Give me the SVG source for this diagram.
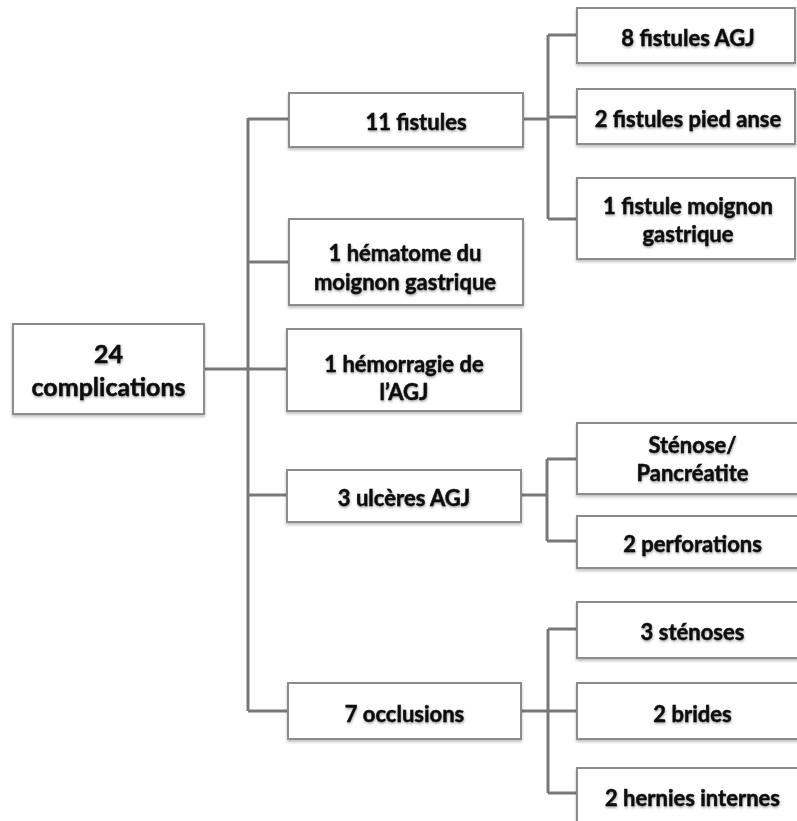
<svg xmlns="http://www.w3.org/2000/svg" width="797" height="821" viewBox="0 0 797 821">
  <defs>
    <filter id="bsh" x="-5%" y="-10%" width="110%" height="125%">
      <feDropShadow dx="0" dy="2" stdDeviation="1.5" flood-color="#000" flood-opacity="0.25"/>
    </filter>
    <filter id="tsh" x="-5%" y="-20%" width="110%" height="150%">
      <feDropShadow dx="0.5" dy="1.5" stdDeviation="1.2" flood-color="#000" flood-opacity="0.35"/>
    </filter>
  </defs>
  <style>
    .box { fill: #ffffff; stroke: #8c8c8c; stroke-width: 2; filter: url(#bsh); }
    .lbl { font-family: "Lato", "Liberation Sans", sans-serif; font-weight: bold; font-size: 22px; fill: #111111; stroke: #111111; stroke-width: 0.5; text-anchor: middle; filter: url(#tsh); }
    .root { font-size: 25px; }
    .con { fill: none; stroke: #787878; stroke-width: 3; }
  </style>
  <rect width="797" height="821" fill="#ffffff"/>

  <g id="connectors" class="con">
    <path d="M204 369 H248"/>
    <path d="M248 118 V711"/>
    <path d="M248 119 H288 M248 262 H288 M248 369 H288 M248 495 H288 M248 711 H288"/>
    <path d="M523 119 H548 M548 35 V219 M548 35 H577 M548 117 H577 M548 219 H577"/>
    <path d="M521 495 H547 M547 459 V541 M547 459 H577 M547 541 H577"/>
    <path d="M521 711 H548 M548 629 V793 M548 629 H577 M548 711 H577 M548 793 H577"/>
  </g>

  <g id="n-root">
    <rect class="box" x="13" y="324" width="191" height="90"/>
    <text class="lbl root" x="108.5" y="363">24</text>
    <text class="lbl root" x="108.5" y="396">complications</text>
  </g>

  <g id="n-fistules">
    <rect class="box" x="289" y="93" width="234" height="54"/>
    <text class="lbl" x="416" y="130">11 fistules</text>
  </g>
  <g id="n-hematome">
    <rect class="box" x="289" y="219" width="234" height="86"/>
    <text class="lbl" x="405" y="261">1 hématome du</text>
    <text class="lbl" x="405" y="290">moignon gastrique</text>
  </g>
  <g id="n-hemorragie">
    <rect class="box" x="287" y="329" width="234" height="82"/>
    <text class="lbl" x="404" y="372">1 hémorragie de</text>
    <text class="lbl" x="404" y="400">l’AGJ</text>
  </g>
  <g id="n-ulceres">
    <rect class="box" x="287" y="470" width="234" height="52"/>
    <text class="lbl" x="404" y="506">3 ulcères AGJ</text>
  </g>
  <g id="n-occlusions">
    <rect class="box" x="288" y="683" width="233" height="56"/>
    <text class="lbl" x="404.5" y="722">7 occlusions</text>
  </g>

  <g id="n-fist-agj">
    <rect class="box" x="577" y="8" width="218" height="55"/>
    <text class="lbl" x="688" y="46">8 fistules AGJ</text>
  </g>
  <g id="n-fist-pied">
    <rect class="box" x="577" y="89" width="218" height="55"/>
    <text class="lbl" x="688" y="127">2 fistules pied anse</text>
  </g>
  <g id="n-fist-moignon">
    <rect class="box" x="577" y="178" width="218" height="81"/>
    <text class="lbl" x="688" y="214">1 fistule moignon</text>
    <text class="lbl" x="688" y="242">gastrique</text>
  </g>

  <g id="n-stenose-pancreatite">
    <rect class="box" x="577" y="423" width="231" height="71"/>
    <text class="lbl" x="692.5" y="453">Sténose/</text>
    <text class="lbl" x="692.5" y="481">Pancréatite</text>
  </g>
  <g id="n-perforations">
    <rect class="box" x="577" y="516" width="231" height="52"/>
    <text class="lbl" x="692.5" y="552">2 perforations</text>
  </g>

  <g id="n-stenoses">
    <rect class="box" x="577" y="602" width="231" height="56"/>
    <text class="lbl" x="692.5" y="640">3 sténoses</text>
  </g>
  <g id="n-brides">
    <rect class="box" x="577" y="683" width="231" height="56"/>
    <text class="lbl" x="692.5" y="722">2 brides</text>
  </g>
  <g id="n-hernies">
    <rect class="box" x="577" y="768" width="231" height="60"/>
    <text class="lbl" x="692.5" y="806">2 hernies internes</text>
  </g>
</svg>
